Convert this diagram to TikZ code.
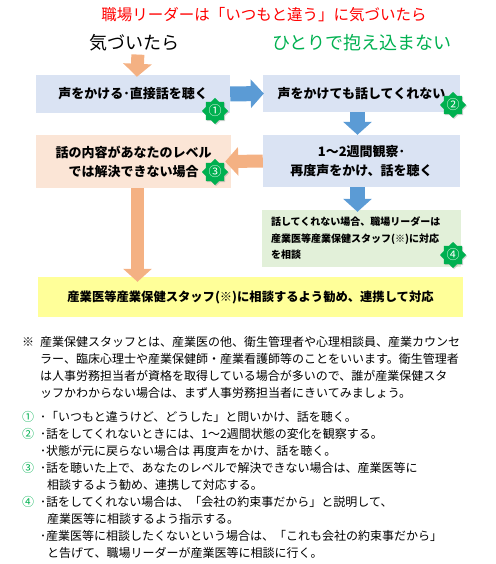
\documentclass[tikz,border=0pt]{standalone}
\usepackage{fontspec}
\setmainfont{Noto Sans CJK JP}
\usetikzlibrary{shapes.geometric, arrows.meta, shadows}
\definecolor{alert}{HTML}{FF0000}
\definecolor{mark}{HTML}{00B050}
\definecolor{arrorange}{HTML}{F4B183}
\definecolor{arrblue}{HTML}{5B9BD5}
\definecolor{boxblue}{HTML}{DAE3F3}
\definecolor{boxpeach}{HTML}{FBE5D6}
\definecolor{boxgreen}{HTML}{E2F0D9}
\definecolor{boxyellow}{HTML}{FFFF99}
\tikzset{
  talk/.style={rectangle, fill=boxblue, inner sep=0pt, align=center, font=\fontsize{13}{19}\selectfont\bfseries},
  limit/.style={rectangle, fill=boxpeach, inner sep=0pt, align=center, font=\fontsize{13}{19}\selectfont\bfseries},
  lead/.style={rectangle, fill=boxgreen, inner xsep=9pt, inner ysep=0pt, align=left, font=\fontsize{10}{16.5}\selectfont\bfseries},
  final/.style={rectangle, fill=boxyellow, inner sep=0pt, align=center, font=\fontsize{12.3}{14}\selectfont\bfseries},
  badge/.style={star, star points=8, star point ratio=1.3, minimum size=26pt, inner sep=0pt, fill=mark, text=white, font=\fontsize{13}{13}\selectfont, drop shadow={opacity=0.35, shadow xshift=1pt, shadow yshift=-1pt}},
  head/.style={inner sep=0pt, font=\fontsize{18}{18}\selectfont},
  note/.style={inner sep=0pt, align=left, anchor=base west, font=\fontsize{12}{17}\selectfont},
  oarr/.style={draw=arrorange, line width=13pt, -{Triangle[length=13pt, width=28pt]}},
  barr/.style={draw=arrblue, line width=15pt, -{Triangle[length=13pt, width=28pt]}},
}
\begin{document}
\begin{tikzpicture}[x=1pt, y=-1pt]
\useasboundingbox (0,0) rectangle (495,564);
\node[inner sep=0pt, text=alert, font=\fontsize{15.5}{15.5}\selectfont] (title) at (264,15) {職場リーダーは「いつもと違う」に気づいたら};
\node[head] (notice) at (134,43) {気づいたら};
\node[head, text=mark] (alone) at (362,43) {ひとりで抱え込まない};

% flow boxes
\node[talk, minimum width=194pt, minimum height=38pt] (call) at (133,94) {声をかける･直接話を聴く};
\node[talk, minimum width=197pt, minimum height=37pt] (nospeak) at (361.5,93.5) {声をかけても話してくれない};
\node[limit, minimum width=195pt, minimum height=53pt] (level) at (133.5,161.5) {話の内容があなたのレベル\\では解決できない場合};
\node[talk, minimum width=197pt, minimum height=52pt] (observe) at (361.5,161) {1～2週間観察･\\再度声をかけ、話を聴く};
\node[lead, text width=181pt, minimum height=57pt] (consult) at (361.5,238.5) {話してくれない場合、職場リーダーは\\産業医等産業保健スタッフ(※)に対応\\を相談};
\node[final, minimum width=425pt, minimum height=40pt] (refer) at (250.5,297) {産業医等産業保健スタッフ(※)に相談するよう勧め、連携して対応};

% block arrows
\draw[oarr, shorten <=3pt, shorten >=-2pt] ([xshift=4pt]notice.south) -- ([xshift=4pt]call.north);
\draw[barr, shorten >=-1pt] (call.east) -- (nospeak.west);
\draw[barr] ([xshift=-4pt]nospeak.south) -- ([xshift=-4pt]observe.north);
\draw[oarr, shorten >=-6pt] (observe.west) -- (level.east);
\draw[barr, shorten >=-2pt] ([xshift=-4pt]observe.south) -- ([xshift=-4pt]consult.north);
\draw[oarr, shorten >=-5pt] ([xshift=4pt]level.south) -- ([xshift=4pt]level.south |- refer.north);

\node[badge] (b1) at (215,111) {①};
\node[badge] (b2) at (453,105) {②};
\node[badge] (b3) at (215,172) {③};
\node[badge] (b4) at (453,255) {④};

% notes (base = last line)
\node[note] (fnmark) at (22,346.5) {※};
\node[note] (fn) at (40,397.5) {産業保健スタッフとは、産業医の他、衛生管理者や心理相談員、産業カウンセ\\ラー、臨床心理士や産業保健師・産業看護師等のことをいいます。衛生管理者\\は人事労務担当者が資格を取得している場合が多いので、誰が産業保健スタ\\ッフかわからない場合は、まず人事労務担当者にきいてみましょう。};
\node[note, text=mark] (n1) at (22,421.5) {①};
\node[note, text=mark] (n2) at (22,438.5) {②};
\node[note, text=mark] (n3) at (22,472.5) {③};
\node[note, text=mark] (n4) at (22,506.5) {④};
\node[note] (steps) at (40,557.5) {･「いつもと違うけど、どうした」と問いかけ、話を聴く。\\･話をしてくれないときには、1～2週間状態の変化を観察する。\\･状態が元に戻らない場合は 再度声をかけ、話を聴く。\\･話を聴いた上で、あなたのレベルで解決できない場合は、産業医等に\\\hspace*{7pt}相談するよう勧め、連携して対応する。\\･話をしてくれない場合は、「会社の約束事だから」と説明して、\\\hspace*{7pt}産業医等に相談するよう指示する。\\･産業医等に相談したくないという場合は、「これも会社の約束事だから」\\\hspace*{7pt}と告げて、職場リーダーが産業医等に相談に行く。};
\end{tikzpicture}
\end{document}
